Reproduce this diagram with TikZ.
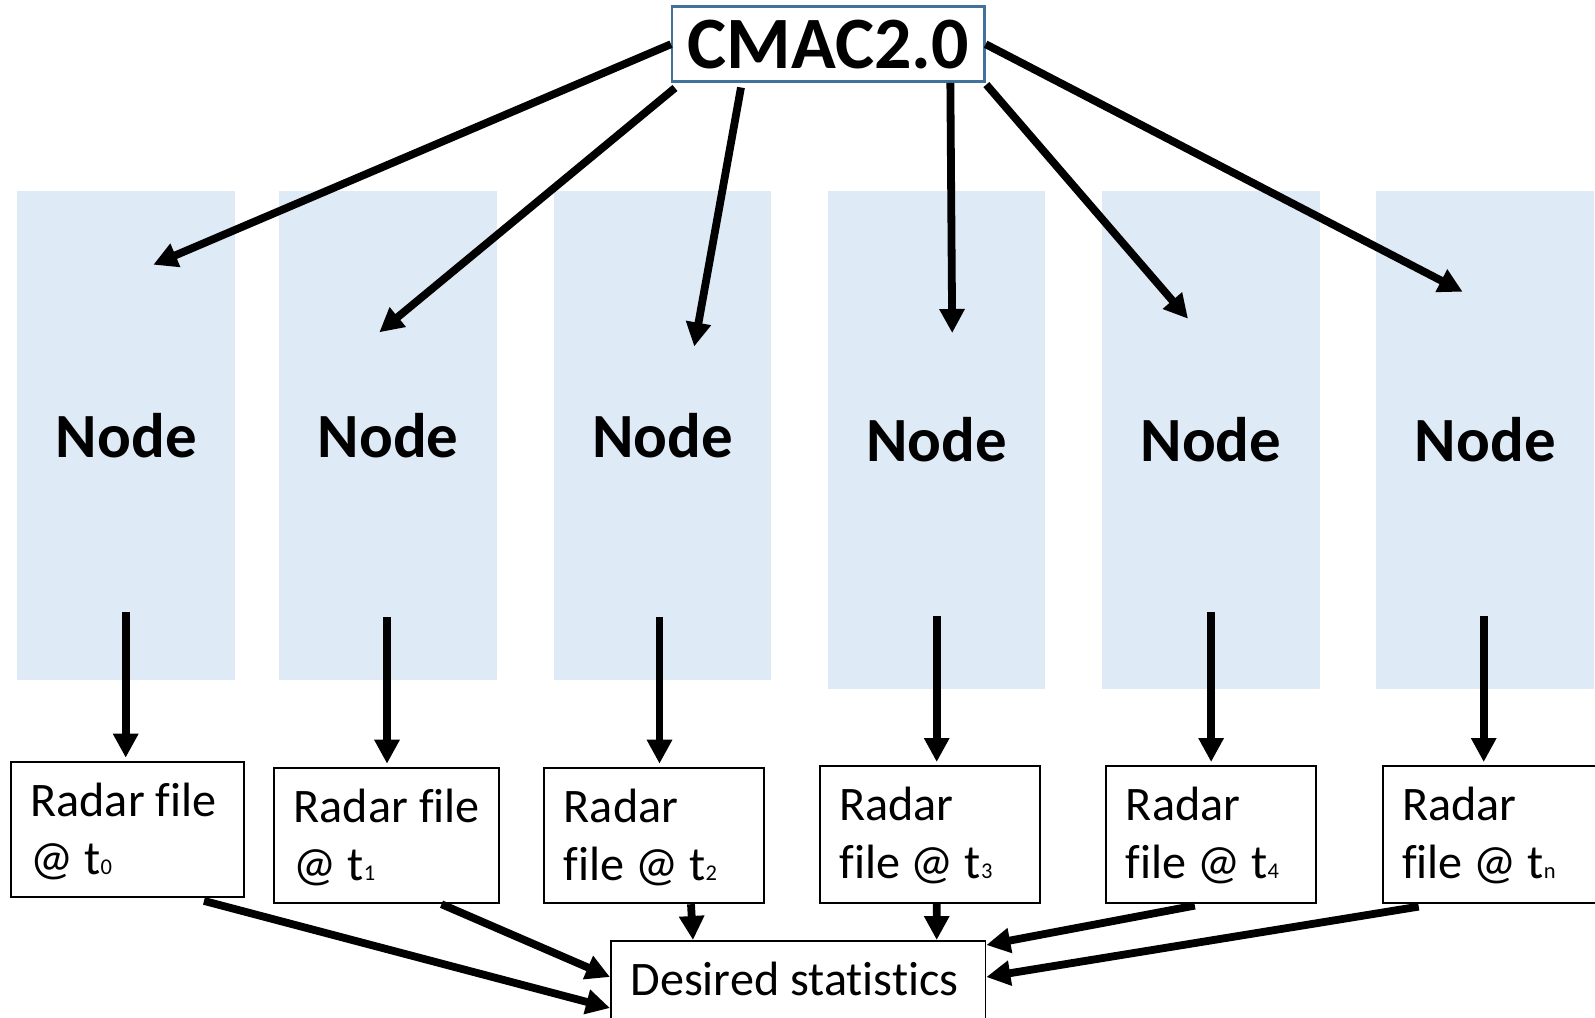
\documentclass[tikz,border=0pt]{standalone}
\usepackage{fontspec}
\setmainfont{Carlito}[Ligatures=NoCommon]
\usetikzlibrary{arrows.meta,calc}

\definecolor{nodefill}{RGB}{222,234,246}
\definecolor{cmacedge}{RGB}{65,113,156}

% small index after "t"
\newcommand\tsub[1]{{\fontsize{6.4pt}{7pt}\selectfont #1}}
% text block of a file box: width, height, content (top aligned, fixed first baseline)
\newcommand\boxtext[3]{\parbox[c][#2][t]{#1}{\fontsize{13.7pt}{16.5pt}\selectfont
  \leftskip=0.195cm\rule{0pt}{0.55cm}#3}}

\begin{document}
\begin{tikzpicture}[x=0.01cm,y=-0.01cm,
  compute/.style={fill=nodefill, anchor=north west, inner sep=0pt,
    font=\bfseries\fontsize{17.9pt}{21pt}\selectfont},
  filebox/.style={draw, line width=0.018cm, inner sep=0pt, anchor=north west},
  conn/.style={line width=0.078cm, -{Triangle[length=0.24cm,width=0.24cm]}}]

\useasboundingbox (0,0) rectangle (1595,1017);

% controller
\node[draw=cmacedge, line width=0.025cm, minimum width=3.12cm, minimum height=0.75cm,
  inner sep=0pt, fill=white, font=\bfseries\fontsize{21pt}{24pt}\selectfont]
  (cmac) at (828.3,44.2) {CMAC2.0};

% compute nodes
\node[compute, minimum width=2.176cm, minimum height=4.888cm] (n1) at (16.7,190) {Node};
\node[compute, minimum width=2.173cm, minimum height=4.888cm] (n2) at (278.7,190) {Node};
\node[compute, minimum width=2.173cm, minimum height=4.888cm] (n3) at (553,190) {Node};
\node[compute, minimum width=2.176cm, minimum height=4.983cm] (n4) at (826.8,190) {Node};
\node[compute, minimum width=2.183cm, minimum height=4.983cm] (n5) at (1101,190) {Node};
\node[compute, minimum width=2.177cm, minimum height=4.983cm] (n6) at (1375.6,190) {Node};

% radar files
\node[filebox] (r0) at (10,760.7) {\boxtext{2.333cm}{1.353cm}{Radar file\\@ t\tsub{0}}};
\node[filebox] (r1) at (273.3,766.7) {\boxtext{2.25cm}{1.356cm}{Radar file\\@ t\tsub{1}}};
\node[filebox] (r2) at (543.4,766.7) {\boxtext{2.194cm}{1.356cm}{Radar\\file @ t\tsub{2}}};
\node[filebox] (r3) at (818.9,765) {\boxtext{2.2cm}{1.367cm}{Radar\\file @ t\tsub{3}}};
\node[filebox] (r4) at (1105.4,765) {\boxtext{2.098cm}{1.367cm}{Radar\\file @ t\tsub{4}}};
\node[filebox] (r5) at (1381.7,765) {\boxtext{2.4cm}{1.367cm}{Radar\\file @ t\tsub{n}}};

% result
\node[filebox, fill=white] (stats) at (610,940) {\boxtext{3.743cm}{1.0cm}{Desired statistics}};

% controller to nodes
\coordinate (a1) at (cmac.west);
\coordinate (a2) at ($(cmac.south west)+(4,5)$);
\coordinate (a3) at ($(cmac.south west)+(70,4.5)$);
\coordinate (a4) at ($(cmac.south east)+(-35.3,0)$);
\coordinate (a5) at ($(cmac.south east)+(0.7,1.6)$);
\coordinate (a6) at (cmac.east);
\coordinate (t1) at (153.3,264.7);
\coordinate (t2) at (379.3,332.3);
\coordinate (t3) at (694.2,346.5);
\coordinate (t4) at (952.2,333);
\coordinate (t5) at (1188,318.7);
\coordinate (t6) at (1462.6,291.7);
\draw[conn] (a1) -- (t1);
\draw[conn] (a2) -- (t2);
\draw[conn] (a3) -- (t3);
\draw[conn] (a4) -- (t4);
\draw[conn] (a5) -- (t5);
\draw[conn] (a6) -- (t6);

% nodes to radar files
\coordinate (d1) at (125.7,612);
\coordinate (d2) at (387,617);
\coordinate (d3) at (659.5,617);
\coordinate (d4) at (936.7,616);
\coordinate (d5) at (1211.1,612);
\coordinate (d6) at (1483.7,616);
\draw[conn, shorten >=0.03cm] (d1) -- (d1 |- r0.north);
\draw[conn, shorten >=0.03cm] (d2) -- (d2 |- r1.north);
\draw[conn, shorten >=0.03cm] (d3) -- (d3 |- r2.north);
\draw[conn, shorten >=0.03cm] (d4) -- (d4 |- r3.north);
\draw[conn, shorten >=0.03cm] (d5) -- (d5 |- r4.north);
\draw[conn, shorten >=0.03cm] (d6) -- (d6 |- r5.north);

% radar files to statistics
\draw[conn] ($(r0.south west)+(194,3)$) -- ($(stats.north west)+(0,68)$);
\draw[conn] ($(r1.south west)+(168.2,0)$) -- ($(stats.north west)+(0,37)$);
\draw[conn] ($(r2.south west)+(147.6,0)$) -- ($(stats.north west)+(83,0)$);
\draw[conn] ($(r3.south west)+(117.8,0)$) -- ($(stats.north west)+(326.7,0)$);
\draw[conn] ($(r4.south west)+(89.4,2)$) -- ($(stats.north east)+(0,5)$);
\draw[conn] ($(r5.south west)+(37,3)$) -- ($(stats.north east)+(0,37)$);
\end{tikzpicture}
\end{document}
